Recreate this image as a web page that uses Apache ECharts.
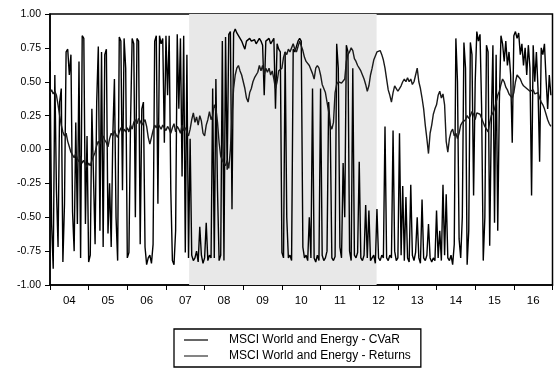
<!DOCTYPE html>
<html><head><meta charset="utf-8">
<script src="https://cdn.jsdelivr.net/npm/echarts@6/dist/echarts.min.js"></script>
<style>html,body{margin:0;padding:0;background:#fff}#c{width:554px;height:372px}</style>
</head><body><div id="c"></div>
<script>
// x-axis category labels (years)
const yearLabels = ['04','05','06','07','08','09','10','11','12','13','14','15','16'];
const startYear = 2004;
const pointsPerYear = 24; // semi-monthly observations
// shaded crisis period (decimal years)
const shadeRange = [2007.6, 2012.45];

// MSCI World and Energy - CVaR (one row per year)
const cvar = [
  0.65,-0.55,-0.88,0.55,-0.30,-0.72,0.35,0.45,-0.83,-0.40,0.72,0.74,0.55,0.70,-0.46,-0.75,0.20,-0.55,0.65,-0.80,0.84,0.82,-0.55,0.10,
  -0.83,-0.78,0.30,-0.20,-0.70,0.35,0.76,-0.60,0.72,-0.72,0.70,0.74,-0.62,-0.25,-0.72,0.10,0.52,-0.50,-0.82,0.83,0.80,-0.30,0.82,0.60,
  -0.80,-0.76,0.20,0.82,0.78,-0.50,0.82,0.80,-0.70,0.30,0.35,-0.72,-0.85,-0.80,-0.78,-0.84,-0.70,0.80,0.84,-0.40,0.84,0.78,0.82,0.05,
  0.84,0.40,0.84,-0.30,-0.82,-0.85,-0.60,0.85,0.30,0.82,-0.20,0.84,-0.76,0.70,-0.80,0.08,-0.78,-0.82,-0.80,-0.75,-0.83,-0.57,-0.78,-0.84,
  -0.80,-0.54,-0.82,-0.78,-0.80,0.45,-0.80,0.52,-0.30,-0.82,-0.78,0.80,-0.82,0.83,-0.15,0.85,0.87,-0.44,0.86,0.89,0.86,0.84,0.82,0.80,
  0.77,0.74,0.80,0.80,0.82,0.80,0.79,0.81,0.78,0.79,0.82,0.80,0.77,0.40,0.80,0.79,0.82,0.78,0.80,0.82,0.30,0.78,0.74,0.72,
  -0.76,-0.80,0.72,-0.50,-0.80,-0.78,-0.82,0.74,0.72,0.76,0.80,0.82,0.80,-0.72,-0.80,-0.78,-0.82,-0.50,-0.80,0.45,-0.80,-0.83,-0.78,-0.82,
  0.45,-0.78,-0.82,-0.80,-0.75,0.35,0.15,-0.80,-0.82,-0.79,0.78,0.60,-0.72,-0.80,-0.10,-0.50,0.77,0.72,-0.75,-0.82,0.60,-0.78,-0.80,-0.76,
  -0.09,-0.80,-0.82,-0.78,-0.41,-0.80,-0.45,-0.82,-0.80,-0.78,-0.84,-0.44,-0.80,-0.82,-0.78,-0.80,0.17,-0.80,-0.82,-0.78,-0.80,0.14,-0.75,-0.82,
  -0.80,0.12,-0.78,-0.27,-0.82,-0.35,-0.80,-0.83,-0.26,-0.78,-0.82,-0.76,-0.50,-0.80,-0.84,-0.37,-0.80,-0.82,-0.78,-0.55,-0.80,-0.83,-0.80,-0.82,
  -0.45,-0.80,-0.60,-0.82,-0.26,-0.78,-0.33,-0.80,-0.82,-0.78,-0.85,-0.70,0.82,0.50,-0.66,-0.80,-0.50,0.79,0.60,-0.85,-0.60,0.79,0.70,-0.34,
  0.50,0.87,0.80,0.85,0.30,-0.82,-0.50,0.77,0.72,-0.71,0.20,0.77,-0.54,0.70,-0.60,0.35,0.84,0.78,0.65,0.80,0.62,0.72,0.55,0.05,
  0.84,0.87,0.82,0.86,0.70,0.78,0.62,0.75,0.55,0.77,0.60,-0.34,0.77,0.50,0.72,0.45,-0.09,0.75,0.70,0.78,0.52,0.30,0.55,0.40
];

// MSCI World and Energy - Returns (one row per year)
const returnsCorr = [
  0.42,0.44,0.41,0.43,0.40,0.33,0.25,0.18,0.13,0.10,0.12,0.06,0.02,-0.02,-0.04,-0.06,-0.03,-0.07,-0.09,-0.05,-0.10,-0.08,-0.11,-0.13,
  -0.10,-0.12,-0.08,-0.05,-0.02,0.03,0.06,0.04,0.08,0.10,0.07,0.05,0.02,0.08,0.12,0.10,0.14,0.11,0.09,0.13,0.16,0.12,0.15,0.13,
  0.16,0.13,0.18,0.15,0.20,0.22,0.19,0.23,0.21,0.18,0.20,0.22,0.17,0.09,0.04,0.09,0.14,0.18,0.16,0.19,0.17,0.15,0.18,0.16,
  0.14,0.17,0.15,0.12,0.16,0.19,0.13,0.17,0.15,0.12,0.18,0.14,0.16,0.13,0.10,0.15,0.22,0.27,0.20,0.24,0.18,0.25,0.21,0.12,
  0.10,0.18,0.22,0.28,0.22,0.25,0.33,0.30,0.20,0.05,-0.05,-0.08,-0.10,-0.12,-0.08,-0.14,0.00,0.25,0.45,0.55,0.60,0.62,0.58,0.55,
  0.50,0.45,0.38,0.35,0.42,0.45,0.50,0.53,0.52,0.57,0.62,0.58,0.62,0.55,0.60,0.57,0.60,0.55,0.58,0.52,0.45,0.50,0.58,0.57,
  0.60,0.68,0.72,0.70,0.74,0.72,0.75,0.78,0.74,0.72,0.76,0.80,0.80,0.73,0.68,0.65,0.64,0.62,0.62,0.56,0.52,0.60,0.62,0.60,
  0.55,0.48,0.45,0.42,0.35,0.28,0.18,0.15,0.20,0.42,0.48,0.50,0.50,0.49,0.50,0.52,0.65,0.70,0.72,0.75,0.73,0.67,0.65,0.62,
  0.60,0.58,0.57,0.52,0.48,0.43,0.47,0.55,0.60,0.66,0.69,0.72,0.72,0.73,0.70,0.66,0.60,0.52,0.44,0.40,0.35,0.42,0.47,0.45,
  0.43,0.45,0.47,0.50,0.52,0.50,0.53,0.50,0.52,0.48,0.50,0.55,0.60,0.50,0.45,0.38,0.30,0.18,0.08,-0.03,0.12,0.18,0.26,0.30,
  0.33,0.40,0.43,0.38,0.41,0.33,0.06,-0.02,0.08,0.13,0.15,0.10,0.12,0.08,0.12,0.18,0.20,0.20,0.22,0.25,0.23,0.25,0.28,0.26,
  0.22,0.27,0.28,0.26,0.25,0.20,0.17,0.15,0.13,0.20,0.25,0.27,0.30,0.35,0.40,0.43,0.48,0.52,0.50,0.46,0.44,0.41,0.40,0.38,
  0.42,0.50,0.55,0.55,0.52,0.49,0.47,0.46,0.45,0.44,0.43,0.42,0.44,0.41,0.40,0.42,0.38,0.35,0.33,0.30,0.26,0.22,0.19,0.17
];

const seriesNames = ['MSCI World and Energy - CVaR', 'MSCI World and Energy - Returns'];

function toPairs(arr) {
  return arr.map((v, i) => [startYear + i / pointsPerYear, v]);
}

const chart = echarts.init(document.getElementById('c'), null, {renderer: 'canvas'});
const font = 'Liberation Sans, Arial, sans-serif';
chart.setOption({
  animation: false,
  backgroundColor: '#fff',
  textStyle: {fontFamily: font},
  grid: {left: 50, top: 14, right: 1.5, bottom: 87, show: true, borderColor: '#000', borderWidth: 1.5, backgroundColor: 'transparent'},
  xAxis: [
    {type: 'category', data: yearLabels, boundaryGap: true,
     axisLine: {onZero: false, lineStyle: {color: '#000', width: 1.5}},
     axisTick: {show: true, length: 5, lineStyle: {color: '#000', width: 1}},
     axisLabel: {color: '#000', fontSize: 11.5, fontFamily: font, margin: 10},
     splitLine: {show: false}},
    {type: 'value', min: startYear, max: startYear + yearLabels.length, show: false, splitLine: {show: false}}
  ],
  yAxis: {type: 'value', min: -1, max: 1, interval: 0.25,
    axisLine: {show: true, onZero: false, lineStyle: {color: '#000', width: 1.5}},
    axisTick: {show: true, length: 5, lineStyle: {color: '#000', width: 1}},
    axisLabel: {color: '#000', fontSize: 10.5, fontFamily: font, margin: 9, formatter: v => v.toFixed(2)},
    splitLine: {show: false}},
  legend: {
    orient: 'vertical', left: 174, top: 329, padding: [5, 10, 5, 10], itemGap: 4,
    icon: 'rect', itemWidth: 24, itemHeight: 1.2, borderColor: '#000', borderWidth: 1.3,
    textStyle: {color: '#000', fontSize: 12, fontFamily: font, padding: [0, 0, 0, 16]},
    data: seriesNames
  },
  series: [
    {name: seriesNames[0], type: 'line', xAxisIndex: 1, data: toPairs(cvar), symbol: 'none',
     lineStyle: {color: '#000', width: 1.4}, itemStyle: {color: '#000'},
     markArea: {silent: true, itemStyle: {color: '#e8e8e8'}, data: [[{xAxis: shadeRange[0]}, {xAxis: shadeRange[1]}]]}},
    {name: seriesNames[1], type: 'line', xAxisIndex: 1, data: toPairs(returnsCorr), symbol: 'none',
     lineStyle: {color: '#1a1a1a', width: 1.4}, itemStyle: {color: '#333'}}
  ]
});
</script>
</body></html>
